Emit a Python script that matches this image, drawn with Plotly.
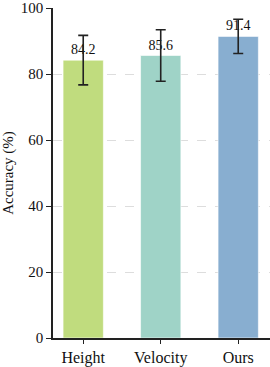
import plotly.graph_objects as go

categories = ["Height", "Velocity", "Ours"]
accuracy = [84.2, 85.6, 91.4]
errors = [7.5, 7.8, 5.2]
colors = ["#c0dc7e", "#9fd3c7", "#88aed0"]
yticks = [0, 20, 40, 60, 80, 100]

FONT = "Liberation Serif, Times New Roman, serif"

fig = go.Figure()
fig.add_trace(go.Bar(
    x=categories, y=accuracy,
    width=0.52,
    marker=dict(color=colors, line=dict(color="rgba(255,255,255,0.6)", width=1)),
    error_y=dict(type="data", array=errors, visible=True, color="#222222",
                 thickness=1.6, width=5),
    text=[f"{v:.1f}" for v in accuracy],
    textposition="outside",
    textfont=dict(family=FONT, size=14, color="#111111"),
    cliponaxis=False,
))

fig.update_layout(
    width=270, height=367,
    margin=dict(l=53, r=0, t=6, b=27),
    paper_bgcolor="white", plot_bgcolor="white",
    font=dict(family=FONT, size=15, color="#111111"),
    showlegend=False,
)
fig.update_xaxes(
    range=[-0.39, 2.41],
    showline=True, linecolor="#222222", linewidth=1.5,
    ticks="outside", ticklen=4, tickcolor="#222222", tickwidth=1.2,
    tickfont=dict(family=FONT, size=16),
    showgrid=False,
)
fig.update_yaxes(
    range=[0, 100], tickvals=yticks,
    showline=True, linecolor="#222222", linewidth=1.5,
    ticks="outside", ticklen=5, tickcolor="#222222", tickwidth=1.2,
    tickfont=dict(family=FONT, size=15),
    ticklabeloverflow="allow",
    showgrid=True, gridcolor="#dddddd", griddash="dash", gridwidth=1,
    zeroline=False,
    title=dict(text="Accuracy (%)", font=dict(family=FONT, size=15), standoff=8),
)

fig.write_html("out.html", config={"displayModeBar": False},
               post_script="document.body.style.margin='0';document.body.style.overflow='hidden';")
